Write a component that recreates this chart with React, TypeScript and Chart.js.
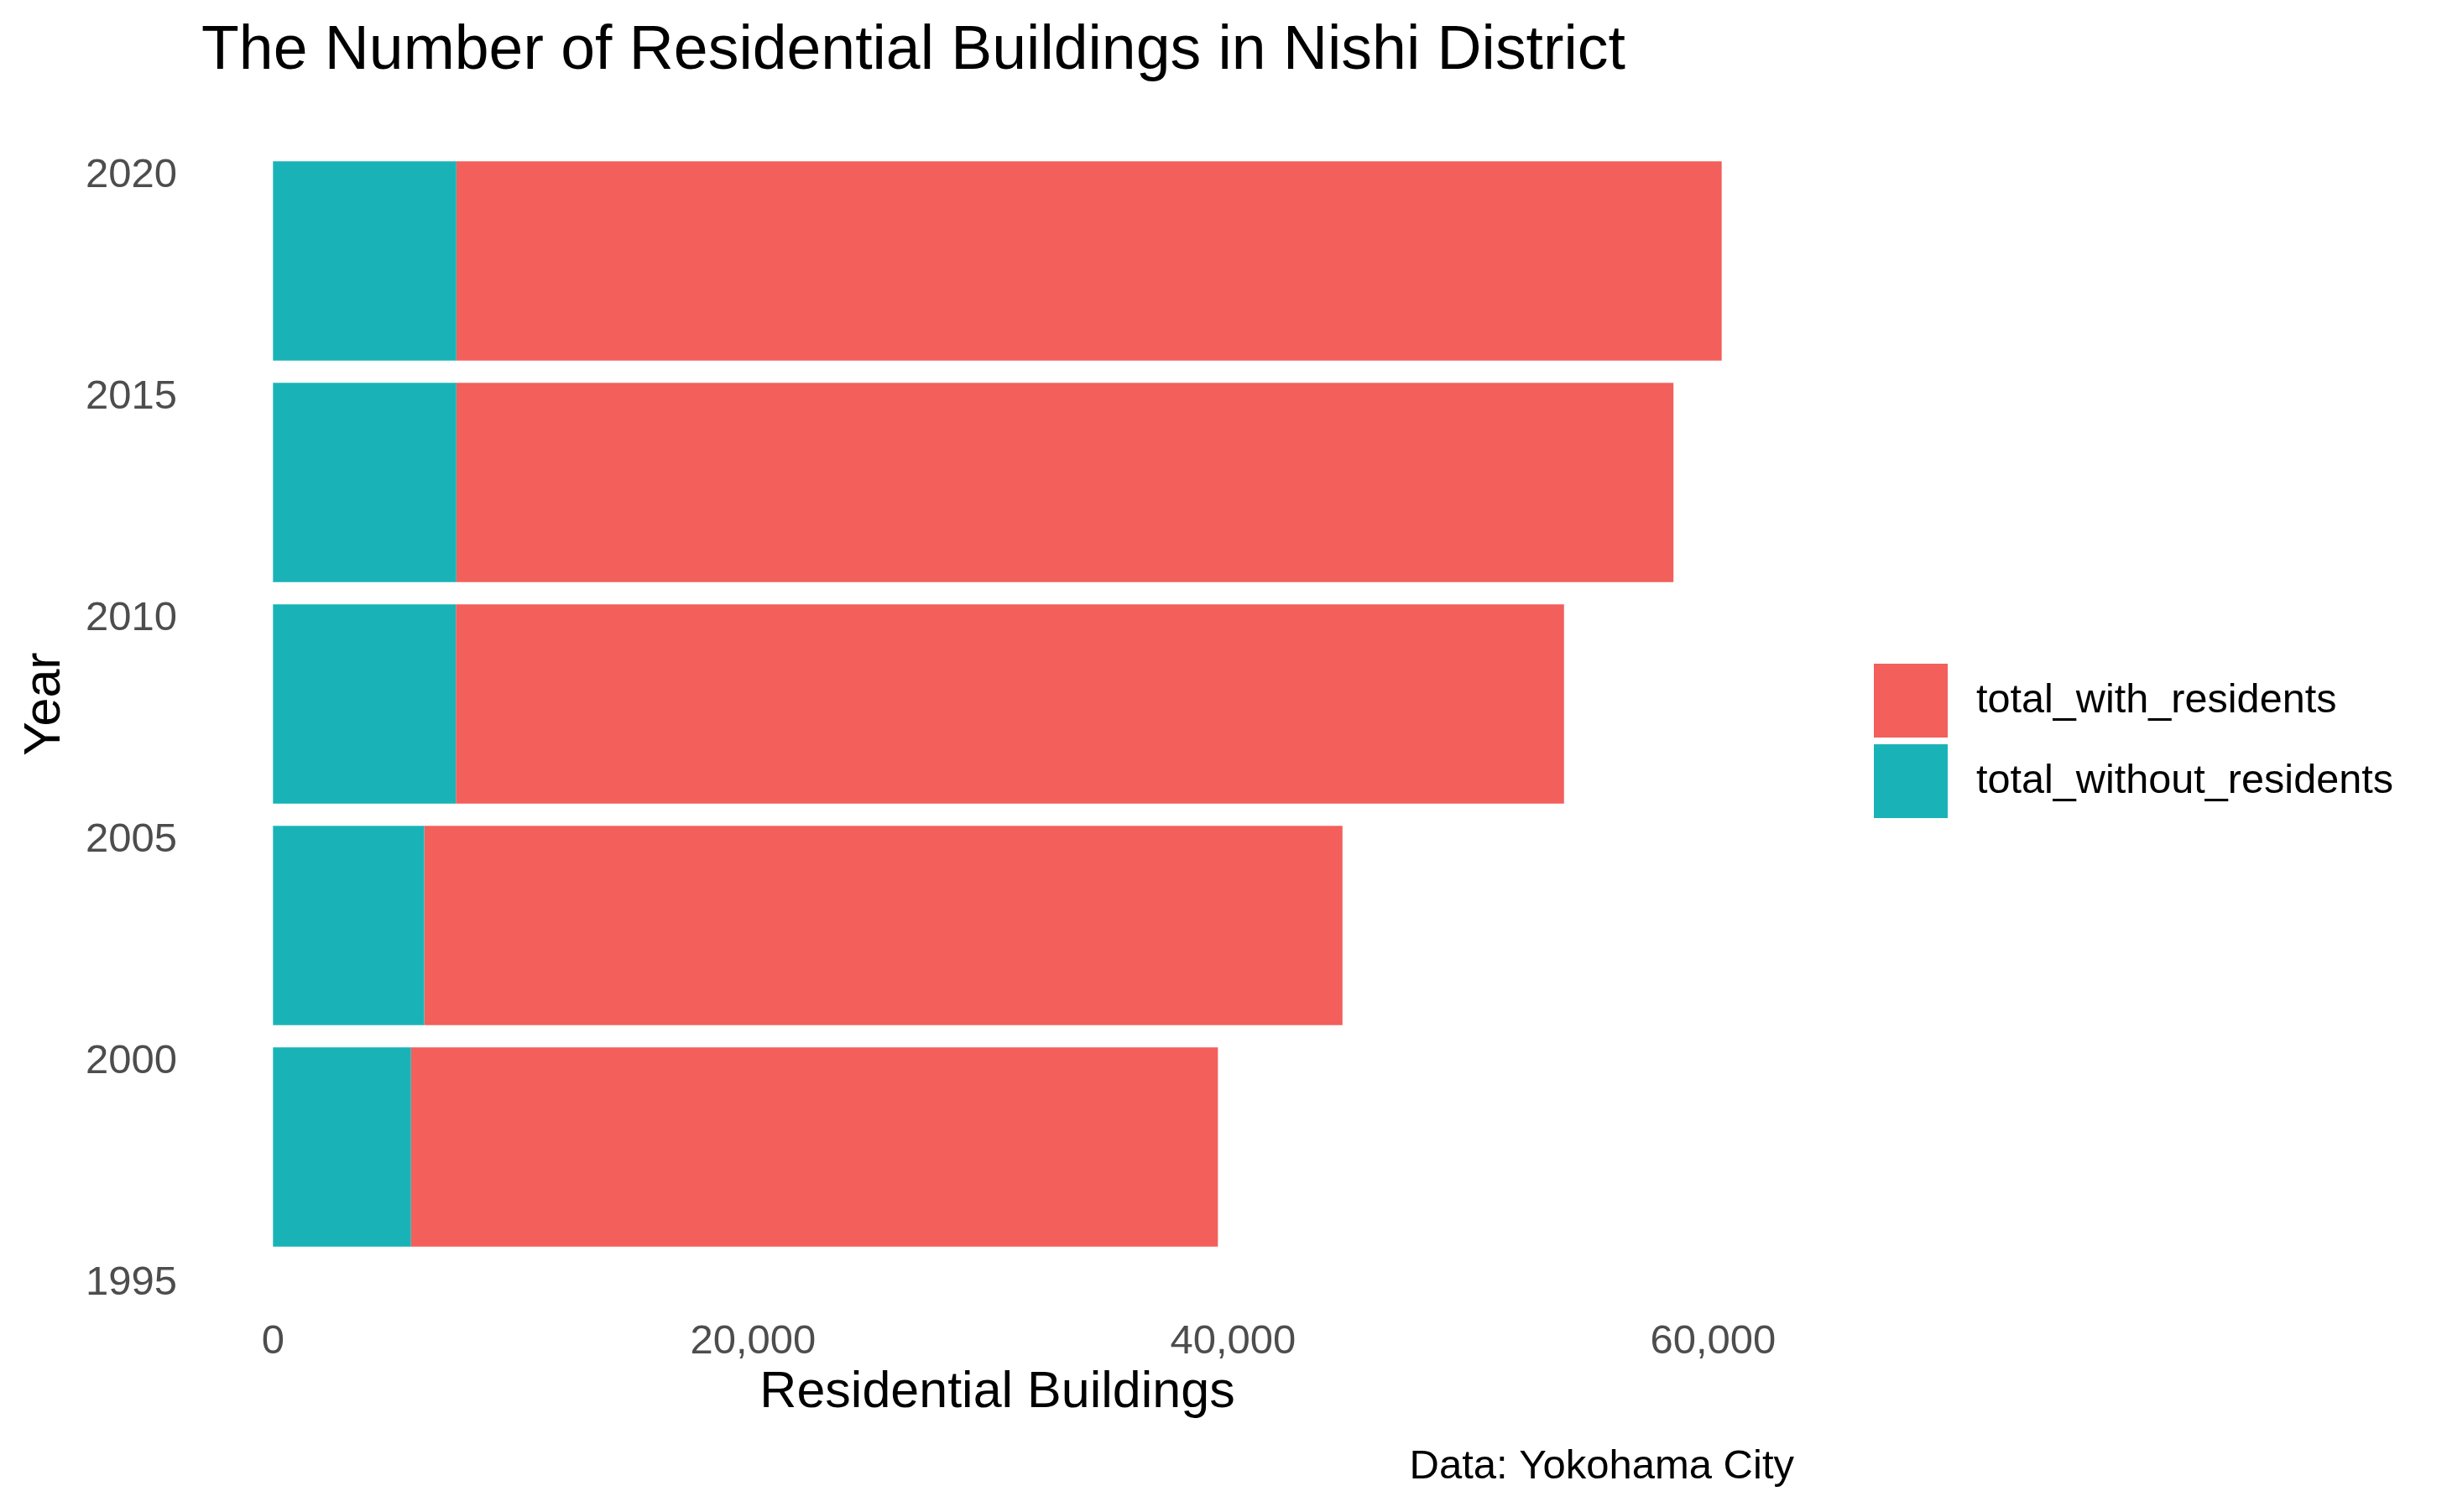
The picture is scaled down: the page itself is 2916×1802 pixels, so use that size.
import React, { useEffect, useRef } from "react";
import { Chart, registerables } from "chart.js";

Chart.register(...registerables);

// ---- data ----
const years = [1998, 2003, 2008, 2013, 2018];
const totalWithResidents = [33620, 38260, 46170, 50710, 52720];
const totalWithoutResidents = [5750, 6300, 7620, 7640, 7640];
const yearTicks = [1995, 2000, 2005, 2010, 2015, 2020];
const buildingTicks = [0, 20000, 40000, 60000];
const seriesNames = ["total_with_residents", "total_without_residents"];

const titleText = "The Number of Residential Buildings in Nishi District";
const captionText = "Data: Yokohama City";
const xTitle = "Residential Buildings";
const yTitle = "Year";

const RED = "#F35F5B";
const TEAL = "#19B3B7";
const FONT = '"Liberation Sans", Arial, Helvetica, sans-serif';

const W = 2916;
const H = 1802;

const extrasPlugin = {
  id: "extras",
  afterDraw(chart: any) {
    const ctx = chart.ctx as CanvasRenderingContext2D;
    const area = chart.chartArea;
    ctx.save();
    // title
    ctx.fillStyle = "#000000";
    ctx.font = `73.4px ${FONT}`;
    ctx.textAlign = "left";
    ctx.textBaseline = "alphabetic";
    ctx.fillText(titleText, area.left + 1, 82);
    // caption
    ctx.font = `49px ${FONT}`;
    ctx.textAlign = "right";
    ctx.fillText(captionText, area.right, 1762);
    // legend (order: with, without)
    const order = [1, 0];
    const boxX = 2233;
    const boxSize = 88;
    const top0 = 791;
    const step = 96;
    order.forEach((dsIndex, i) => {
      const ds = chart.data.datasets[dsIndex];
      const y = top0 + i * step;
      ctx.fillStyle = ds.backgroundColor as string;
      ctx.fillRect(boxX, y, boxSize, boxSize);
      ctx.fillStyle = "#000000";
      ctx.font = `48.6px ${FONT}`;
      ctx.textAlign = "left";
      ctx.textBaseline = "middle";
      ctx.fillText(ds.label, 2355, y + boxSize / 2 + 1);
    });
    ctx.restore();
  },
};

export default function App() {
  const ref = useRef<HTMLCanvasElement | null>(null);

  useEffect(() => {
    if (!ref.current) return;
    Chart.defaults.font.family = FONT;
    const chart = new Chart(ref.current, {
      type: "bar",
      data: {
        datasets: [
          {
            label: seriesNames[1],
            data: years.map((y, i) => ({ x: totalWithoutResidents[i], y })),
            backgroundColor: TEAL,
            borderWidth: 0,
          },
          {
            label: seriesNames[0],
            data: years.map((y, i) => ({ x: totalWithResidents[i], y })),
            backgroundColor: RED,
            borderWidth: 0,
          },
        ],
      },
      options: {
        indexAxis: "y",
        responsive: false,
        animation: false,
        devicePixelRatio: 1,
        barPercentage: 0.9,
        categoryPercentage: 1.0,
        layout: { padding: { top: 127.6, bottom: 105, left: 0, right: W - 2138 } },
        plugins: {
          legend: { display: false },
          title: { display: false },
          tooltip: { enabled: false },
        },
        scales: {
          x: {
            type: "linear",
            stacked: true,
            offset: false,
            min: -3018,
            max: 63378,
            grid: { display: false, drawTicks: false, tickLength: 0 },
            border: { display: false },
            afterBuildTicks: (scale: any) => {
              scale.ticks = buildingTicks.map((v) => ({ value: v }));
            },
            afterFit: (scale: any) => {
              scale.height = 146.6;
            },
            ticks: {
              padding: 20,
              color: "#4D4D4D",
              font: { size: 49 },
              maxRotation: 0,
              autoSkip: false,
              callback: (v: any) => Number(v).toLocaleString("en-US"),
            },
            title: {
              display: true,
              text: xTitle,
              color: "#000000",
              font: { size: 61 },
              padding: { top: 0, bottom: 0 },
            },
          },
          y: {
            type: "linear",
            stacked: true,
            offset: false,
            min: 1994.525,
            max: 2021.475,
            grid: { display: false, drawTicks: false, tickLength: 0, offset: false },
            border: { display: false },
            afterBuildTicks: (scale: any) => {
              scale.ticks = yearTicks.map((v) => ({ value: v }));
            },
            afterFit: (scale: any) => {
              scale.width = 239;
            },
            ticks: {
              padding: 28,
              labelOffset: 4,
              color: "#4D4D4D",
              font: { size: 49 },
              autoSkip: false,
              callback: (v: any) => String(v),
            },
            title: {
              display: true,
              text: yTitle,
              color: "#000000",
              font: { size: 61 },
              padding: { top: 17.2, bottom: 0 },
            },
          },
        },
      } as any,
      plugins: [extrasPlugin],
    });
    return () => chart.destroy();
  }, []);

  return (
    <div style={{ position: "fixed", left: 0, top: 0, width: W, height: H, background: "#fff" }}>
      <canvas ref={ref} width={W} height={H} style={{ display: "block", width: W, height: H }} />
    </div>
  );
}
